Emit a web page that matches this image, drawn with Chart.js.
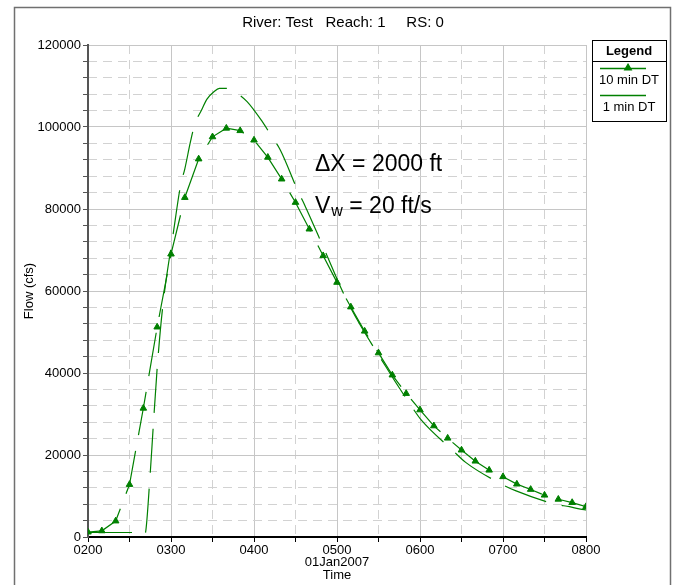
<!DOCTYPE html>
<html>
<head>
<meta charset="utf-8">
<script src="https://cdn.jsdelivr.net/npm/chart.js@4/dist/chart.umd.min.js"></script>
<style>
  html, body { margin: 0; padding: 0; background: #fff; }
  #wrap { width: 673px; height: 585px; }
</style>
</head>
<body>
<div id="wrap"><canvas id="flowChart" width="673" height="585"></canvas></div>
<script>
// Flow hydrograph, River: Test  Reach: 1  RS: 0
// time is in minutes after midnight, flow in cfs

const xTickLabels = ['0200', '0300', '0400', '0500', '0600', '0700', '0800'];

// 10 min DT run (one value every 10 minutes)
const time10 = [120, 130, 140, 150, 160, 170, 180, 190, 200, 210, 220, 230, 240, 250, 260, 270, 280, 290, 300,
    310, 320, 330, 340, 350, 360, 370, 380, 390, 400, 410, 420, 430, 440, 450, 460, 470, 480];
const flow10 = [1200, 1500, 3900, 12800, 31400, 51200, 69000, 82800, 92200, 97600, 99700, 99100, 96800, 92600,
    87300, 81600, 75100, 68600, 62100, 56100, 50200, 44900, 39500, 35000, 31000, 27100, 24100, 21200, 18500,
    16300, 14700, 12900, 11600, 10200, 9200, 8400, 7400];

// 1 min DT run
const time1 = [120, 140, 158, 161, 165, 167, 170, 174, 182, 187, 190, 194, 197, 202, 206, 211, 215, 221, 226,
    235, 246, 253, 259, 272, 277, 290, 307, 335, 354, 361, 384, 393, 419, 429, 458, 468, 476, 480];
const flow1 = [1100, 1100, 1100, 500, 15600, 26100, 41200, 56100, 74900, 85900, 89800, 96300, 100500, 104100,
    106800, 108600, 109400, 109400, 108600, 106200, 101300, 97600, 94400, 84200, 80700, 70800, 57800, 41700,
    31800, 28500, 21000, 18200, 12900, 11300, 8000, 7400, 6800, 6600];

const seriesNames = ['10 min DT', '1 min DT'];

const GREEN = 'rgb(0,128,0)';
const MAJOR_GRID = '#c6c6c6';
const MINOR_GRID = '#d2d2d2';
const FONT = '"Liberation Sans", Arial, sans-serif';

function isMajorX(ctx) { return ctx.tick && ctx.tick.value % 60 === 0; }
function isMajorY(ctx) { return ctx.tick && ctx.tick.value % 20000 === 0; }

// frame, title, annotation text and the boxed legend
const decorations = {
    id: 'decorations',
    beforeDraw(chart) {
        const c = chart.ctx;
        c.save();
        c.fillStyle = '#fff';
        c.fillRect(0, 0, chart.width, chart.height);
        c.restore();
    },
    afterDraw(chart) {
        const c = chart.ctx;
        c.save();

        // outer frame
        c.strokeStyle = '#707070';
        c.lineWidth = 1.5;
        c.strokeRect(14.5, 7.5, 656, 640);

        // title
        c.fillStyle = '#000';
        c.font = '15px ' + FONT;
        c.textAlign = 'center';
        c.textBaseline = 'alphabetic';
        c.fillText('River: Test   Reach: 1     RS: 0', 343, 26.5);

        // annotation
        c.textAlign = 'left';
        c.font = '23px ' + FONT;
        c.fillText('\u0394X = 2000 ft', 315, 171);
        c.fillText('V', 315, 213);
        const vW = c.measureText('V').width;
        c.font = '16px ' + FONT;
        c.fillText('w', 315 + vW + 1, 215.5);
        const wW = c.measureText('w').width;
        c.font = '23px ' + FONT;
        c.fillText(' = 20 ft/s', 315 + vW + 1 + wW, 213);

        // legend box
        const bx = 592.5, by = 40.5, bw = 74, bh = 81;
        c.strokeStyle = '#000';
        c.lineWidth = 1;
        c.strokeRect(bx, by, bw, bh);
        c.beginPath();
        c.moveTo(bx, 61.5);
        c.lineTo(bx + bw, 61.5);
        c.stroke();
        c.textAlign = 'center';
        c.textBaseline = 'middle';
        c.font = 'bold 13px ' + FONT;
        c.fillText('Legend', 629, 51);

        const rows = [68, 95];
        chart.data.datasets.forEach((ds, i) => {
            const y = rows[i];
            c.strokeStyle = ds.borderColor;
            c.lineWidth = 1.3;
            c.beginPath();
            c.moveTo(600, y + 0.5);
            c.lineTo(646, y + 0.5);
            c.stroke();
            if (ds.pointRadius > 0) {
                c.fillStyle = ds.backgroundColor;
                Chart.helpers.drawPoint(c, {
                    pointStyle: ds.pointStyle, radius: ds.pointRadius, borderWidth: 1, rotation: 0
                }, 628, y);
            }
            c.fillStyle = '#000';
            c.font = '13px ' + FONT;
            c.fillText(ds.label, 629, y + 12);
        });

        c.restore();
    }
};

const ctx = document.getElementById('flowChart');

new Chart(ctx, {
    type: 'line',
    data: {
        datasets: [
            {
                label: seriesNames[0],
                data: time10.map((t, i) => ({ x: t, y: flow10[i] })),
                borderColor: GREEN,
                backgroundColor: GREEN,
                borderWidth: 1.2,
                borderDash: [44, 16],
                pointStyle: 'triangle',
                pointRadius: 3.8,
                pointBorderWidth: 1,
                tension: 0
            },
            {
                label: seriesNames[1],
                data: time1.map((t, i) => ({ x: t, y: flow1[i] })),
                borderColor: GREEN,
                backgroundColor: GREEN,
                borderWidth: 1.2,
                borderDash: [44, 16],
                pointRadius: 0,
                cubicInterpolationMode: 'monotone'
            }
        ]
    },
    options: {
        responsive: false,
        devicePixelRatio: 1,
        animation: false,
        layout: { padding: { left: 0, right: 87, top: 45, bottom: 0 } },
        plugins: {
            legend: { display: false },
            title: { display: false },
            tooltip: { enabled: false }
        },
        scales: {
            x: {
                type: 'linear',
                position: 'bottom',
                min: 120,
                max: 480,
                ticks: {
                    stepSize: 30,
                    autoSkip: false,
                    maxRotation: 0,
                    padding: 1,
                    color: '#000',
                    font: { family: FONT, size: 13 },
                    callback: (v) => (v % 60 === 0 ? xTickLabels[(v - 120) / 60] : '')
                },
                grid: {
                    color: (c) => (isMajorX(c) ? MAJOR_GRID : 'rgba(0,0,0,0)'),
                    tickColor: '#000',
                    tickLength: 5
                },
                border: { color: '#000', width: 2 },
                title: {
                    display: true,
                    text: ['01Jan2007', 'Time'],
                    color: '#000',
                    font: { family: FONT, size: 13, lineHeight: 1 },
                    padding: { top: 0, bottom: 3 }
                },
                afterFit: (s) => { s.height = 48; }
            },
            xMinor: {
                type: 'linear',
                position: 'top',
                min: 120,
                max: 480,
                ticks: { display: false, stepSize: 30 },
                grid: {
                    drawTicks: false,
                    color: (c) => (isMajorX(c) ? 'rgba(0,0,0,0)' : MINOR_GRID)
                },
                border: { display: false, dash: [9, 6] },
                afterFit: (s) => { s.height = 0; }
            },
            y: {
                type: 'linear',
                position: 'left',
                min: 0,
                max: 120000,
                ticks: {
                    stepSize: 4000,
                    autoSkip: false,
                    padding: 2,
                    color: '#000',
                    font: { family: FONT, size: 13 },
                    callback: (v) => (v % 20000 === 0 ? String(v) : '')
                },
                grid: {
                    color: (c) => (isMajorY(c) ? MAJOR_GRID : 'rgba(0,0,0,0)'),
                    tickColor: '#555',
                    tickLength: 5
                },
                border: { color: '#555', width: 2 },
                title: {
                    display: true,
                    text: 'Flow (cfs)',
                    color: '#000',
                    font: { family: FONT, size: 13, lineHeight: 1 },
                    padding: { top: 23, bottom: 0 }
                },
                afterFit: (s) => { s.width = 88; }
            },
            yMinor: {
                type: 'linear',
                position: 'right',
                min: 0,
                max: 120000,
                ticks: { display: false, stepSize: 4000 },
                grid: {
                    drawTicks: false,
                    color: (c) => (isMajorY(c) ? 'rgba(0,0,0,0)' : MINOR_GRID)
                },
                border: { display: false, dash: [9, 6] },
                afterFit: (s) => { s.width = 0; }
            }
        }
    },
    plugins: [decorations]
});
</script>
</body>
</html>
